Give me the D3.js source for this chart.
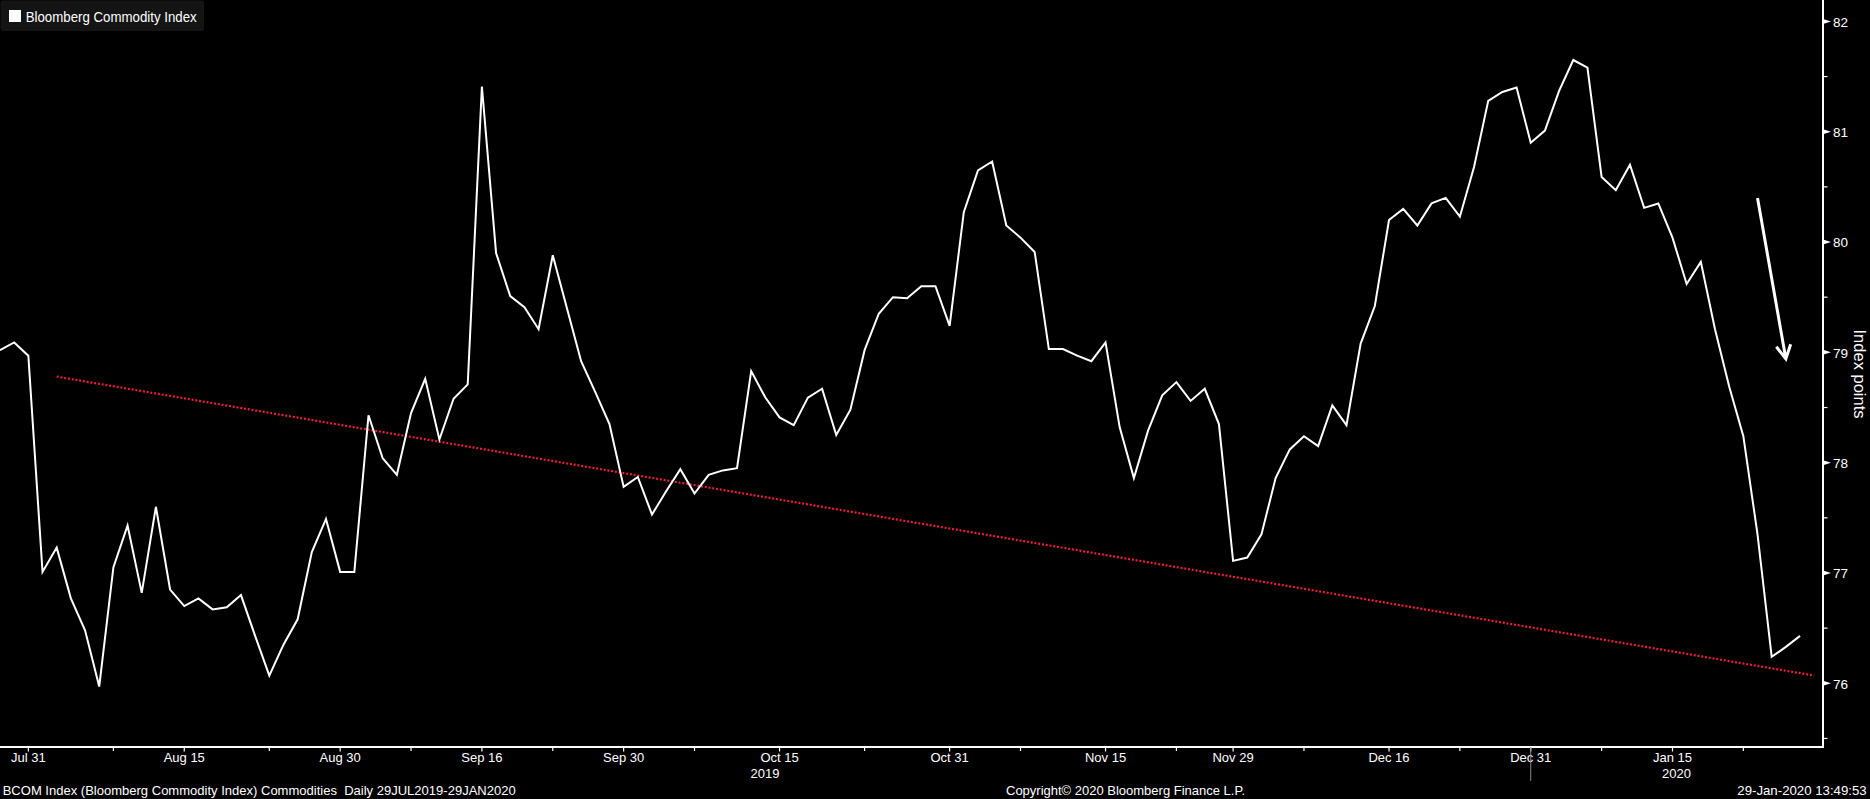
<!DOCTYPE html>
<html><head><meta charset="utf-8">
<script src="https://cdn.jsdelivr.net/npm/d3@7/dist/d3.min.js"></script>
<style>
html,body{margin:0;padding:0;background:#000;overflow:hidden;}
svg{display:block;}
text{font-family:"Liberation Sans",Arial,sans-serif;fill:#fff;}
</style></head><body>
<svg id="chart" width="1870" height="799"></svg>
<script>
// ---- DATA ----
const seriesName = "Bloomberg Commodity Index";
const yAxisTitle = "Index points";
const tradingDays = [
  ["2019-07", [29,30,31]],
  ["2019-08", [1,2,5,6,7,8,9,12,13,14,15,16,19,20,21,22,23,26,27,28,29,30]],
  ["2019-09", [3,4,5,6,9,10,11,12,13,16,17,18,19,20,23,24,25,26,27,30]],
  ["2019-10", [1,2,3,4,7,8,9,10,11,14,15,16,17,18,21,22,23,24,25,28,29,30,31]],
  ["2019-11", [1,4,5,6,7,8,11,12,13,14,15,18,19,20,21,22,25,26,27,29]],
  ["2019-12", [2,3,4,5,6,9,10,11,12,13,16,17,18,19,20,23,24,26,27,30,31]],
  ["2020-01", [2,3,6,7,8,9,10,13,14,15,16,17,21,22,23,24,27,28,29]]
];
const values = [
  79.02, 79.09, 78.97,
  77.01, 77.23, 76.77, 76.48, 75.97, 77.05, 77.43, 76.82, 77.60, 76.85, 76.70, 76.77, 76.67, 76.69, 76.80, 76.43, 76.07, 76.35, 76.58, 77.19, 77.49, 77.01,
  77.01, 78.43, 78.04, 77.89, 78.45, 78.76, 78.21, 78.58, 78.71, 81.41, 79.90, 79.51, 79.41, 79.21, 79.88, 79.40, 78.92, 78.64, 78.35, 77.78,
  77.87, 77.53, 77.74, 77.94, 77.72, 77.89, 77.93, 77.95, 78.83, 78.59, 78.41, 78.34, 78.59, 78.67, 78.25, 78.48, 79.02, 79.35, 79.50, 79.49, 79.60, 79.60, 79.24,
  80.27, 80.65, 80.73, 80.15, 80.04, 79.91, 79.03, 79.03, 78.97, 78.92, 79.09, 78.32, 77.86, 78.29, 78.61, 78.73, 78.56, 78.67, 78.35, 77.11,
  77.14, 77.35, 77.86, 78.12, 78.24, 78.15, 78.52, 78.34, 79.08, 79.42, 80.20, 80.30, 80.15, 80.35, 80.40, 80.23, 80.68, 81.28, 81.36, 81.40, 80.90,
  81.01, 81.37, 81.65, 81.58, 80.59, 80.47, 80.70, 80.31, 80.35, 80.04, 79.62, 79.82, 79.21, 78.69, 78.24, 77.35, 76.24, 76.33, 76.43
];
const xTickLabels = ["Jul 31","Aug 15","Aug 30","Sep 16","Sep 30","Oct 15","Oct 31","Nov 15","Nov 29","Dec 16","Dec 31","Jan 15"];
const xTickDates  = ["2019-07-31","2019-08-15","2019-08-30","2019-09-16","2019-09-30","2019-10-15","2019-10-31","2019-11-15","2019-11-29","2019-12-16","2019-12-31","2020-01-15"];
const xMinorDates = ["2019-08-08","2019-08-23","2019-09-09","2019-09-23","2019-10-07","2019-10-23","2019-11-07","2019-11-22","2019-12-06","2019-12-23","2020-01-08","2020-01-23"];
const yearLabels = ["2019","2020"];
const yearLabelDates = ["2019-10-15","2020-01-15"];
const yearBreakDate = "2019-12-31";
const yMajorTicks = [76,77,78,79,80,81,82];
const yMinorTicks = [75.5,76.5,77.5,78.5,79.5,80.5,81.5];
// trend line endpoints: trading-day index, value
const trendIndex = [4, 128];
const trendValue = [78.78, 76.07];
// arrow annotation endpoints
const arrowDates = ["2020-01-24","2020-01-28"];
const arrowValue = [80.40, 78.94];
const footerLeft = "BCOM Index (Bloomberg Commodity Index) Commodities  Daily 29JUL2019-29JAN2020";
const footerMid = "Copyright\u00A9 2020 Bloomberg Finance L.P.";
const footerRight = "29-Jan-2020 13:49:53";

// ---- BUILD ----
const dates = [];
tradingDays.forEach(([m, ds]) => ds.forEach(d => dates.push(m + "-" + String(d).padStart(2, "0"))));
const idxOf = d => dates.indexOf(d);
const data = values.map((v, i) => ({i, v, date: dates[i]}));

const W = 1870, H = 799;
const plotR = 1823, plotB = 747;
const svg = d3.select("#chart");
svg.append("rect").attr("width", W).attr("height", H).attr("fill", "#000");

const x = d3.scaleLinear().domain([0, 128.62]).range([0, plotR]);
const y = d3.scaleLinear().domain([76, 82]).range([683.3, 21.4]);

svg.append("defs").append("clipPath").attr("id", "clip")
  .append("rect").attr("x", 0).attr("y", 0).attr("width", plotR).attr("height", plotB);

const plot = svg.append("g").attr("clip-path", "url(#clip)");

// trend line (red dotted)
plot.append("line")
  .attr("x1", x(trendIndex[0])).attr("y1", y(trendValue[0]))
  .attr("x2", x(trendIndex[1])).attr("y2", y(trendValue[1]))
  .attr("stroke", "#f01d38").attr("stroke-width", 2.2)
  .attr("stroke-dasharray", "2,1.8");

// main series
plot.append("path").datum(data)
  .attr("fill", "none").attr("stroke", "#fff").attr("stroke-width", 2)
  .attr("stroke-linejoin", "miter")
  .attr("d", d3.line().x(d => x(d.i)).y(d => y(d.v)));

// arrow annotation
const ax1 = x(idxOf(arrowDates[0])), ay1 = y(arrowValue[0]);
const ax2 = x(idxOf(arrowDates[1])), ay2 = y(arrowValue[1]);
const ang = Math.atan2(ay2 - ay1, ax2 - ax1);
const headLen = 15.5, headAng = 28 * Math.PI / 180;
const hp1 = [ax2 - headLen * Math.cos(ang - headAng), ay2 - headLen * Math.sin(ang - headAng)];
const hp2 = [ax2 - headLen * Math.cos(ang + headAng), ay2 - headLen * Math.sin(ang + headAng)];
plot.append("path")
  .attr("d", `M${ax1},${ay1}L${ax2},${ay2}M${hp1[0]},${hp1[1]}L${ax2},${ay2}L${hp2[0]},${hp2[1]}`)
  .attr("fill", "none").attr("stroke", "#fff").attr("stroke-width", 3)
  .attr("stroke-linecap", "butt").attr("stroke-linejoin", "miter");

// legend
const lg = svg.append("g");
lg.append("rect").attr("x", 0.5).attr("y", 0.5).attr("width", 203.5).attr("height", 30.5)
  .attr("rx", 3).attr("fill", "#141414");
lg.append("rect").attr("x", 9).attr("y", 10).attr("width", 12).attr("height", 12).attr("fill", "#fff");
lg.append("text").attr("x", 25.7).attr("y", 17).attr("dominant-baseline", "central")
  .attr("font-size", 14).attr("textLength", 171).attr("lengthAdjust", "spacingAndGlyphs")
  .text(seriesName);

// y axis (right)
const ya = svg.append("g");
ya.append("line").attr("x1", plotR).attr("x2", plotR).attr("y1", 0).attr("y2", plotB + 1)
  .attr("stroke", "#fff").attr("stroke-width", 2);
ya.selectAll(".ymaj").data(yMajorTicks).join("path")
  .attr("d", d => `M${plotR},${y(d) - 2.5}L${plotR + 8},${y(d)}L${plotR},${y(d) + 2.5}Z`)
  .attr("fill", "#fff");
ya.selectAll(".ymin").data(yMinorTicks).join("line")
  .attr("x1", plotR).attr("x2", plotR + 4.5).attr("y1", d => y(d)).attr("y2", d => y(d))
  .attr("stroke", "#fff").attr("stroke-width", 1.2);
ya.selectAll(".ylab").data(yMajorTicks).join("text")
  .attr("x", 1833).attr("y", d => y(d) + 0.8).attr("dominant-baseline", "central")
  .attr("font-size", 13.5).text(d => d);
ya.append("text")
  .attr("transform", `translate(1859.5,374) rotate(90)`)
  .attr("text-anchor", "middle").attr("dominant-baseline", "central")
  .attr("font-size", 16.5).text(yAxisTitle);

// x axis
const xa = svg.append("g");
xa.append("line").attr("x1", 0).attr("x2", plotR + 1).attr("y1", plotB).attr("y2", plotB)
  .attr("stroke", "#fff").attr("stroke-width", 2);
xa.selectAll(".xmaj").data(xTickDates).join("line")
  .attr("x1", d => x(idxOf(d))).attr("x2", d => x(idxOf(d)))
  .attr("y1", plotB).attr("y2", plotB + 4.5).attr("stroke", "#fff").attr("stroke-width", 1.2);
xa.selectAll(".xmin").data(xMinorDates).join("line")
  .attr("x1", d => x(idxOf(d))).attr("x2", d => x(idxOf(d)))
  .attr("y1", plotB).attr("y2", plotB + 4).attr("stroke", "#fff").attr("stroke-width", 1.2);
xa.selectAll(".xlab").data(xTickDates).join("text")
  .attr("x", d => x(idxOf(d))).attr("y", 757.5).attr("text-anchor", "middle")
  .attr("dominant-baseline", "central").attr("font-size", 13).text((d, i) => xTickLabels[i]);
// year break marker
xa.append("line").attr("x1", x(idxOf(yearBreakDate))).attr("x2", x(idxOf(yearBreakDate)))
  .attr("y1", plotB).attr("y2", 781).attr("stroke", "#8a8a8a").attr("stroke-width", 1);
// year labels
xa.append("text").attr("x", x(idxOf(yearLabelDates[0]))).attr("y", 773.5)
  .attr("text-anchor", "end").attr("dominant-baseline", "central").attr("font-size", 13).text(yearLabels[0]);
xa.append("text").attr("x", x(idxOf(yearLabelDates[1])) + 4).attr("y", 773.5)
  .attr("text-anchor", "middle").attr("dominant-baseline", "central").attr("font-size", 13).text(yearLabels[1]);

// footer
svg.append("text").attr("x", 2.7).attr("y", 790.7).attr("dominant-baseline", "central")
  .attr("font-size", 13).style("white-space", "pre")
  .attr("textLength", 513).attr("lengthAdjust", "spacingAndGlyphs").text(footerLeft);
svg.append("text").attr("x", 1006).attr("y", 790.7).attr("dominant-baseline", "central")
  .attr("font-size", 13).attr("textLength", 239).attr("lengthAdjust", "spacingAndGlyphs").text(footerMid);
svg.append("text").attr("x", 1737.3).attr("y", 790.7).attr("dominant-baseline", "central")
  .attr("font-size", 13).attr("textLength", 129.4).attr("lengthAdjust", "spacingAndGlyphs").text(footerRight);
</script>
</body></html>
